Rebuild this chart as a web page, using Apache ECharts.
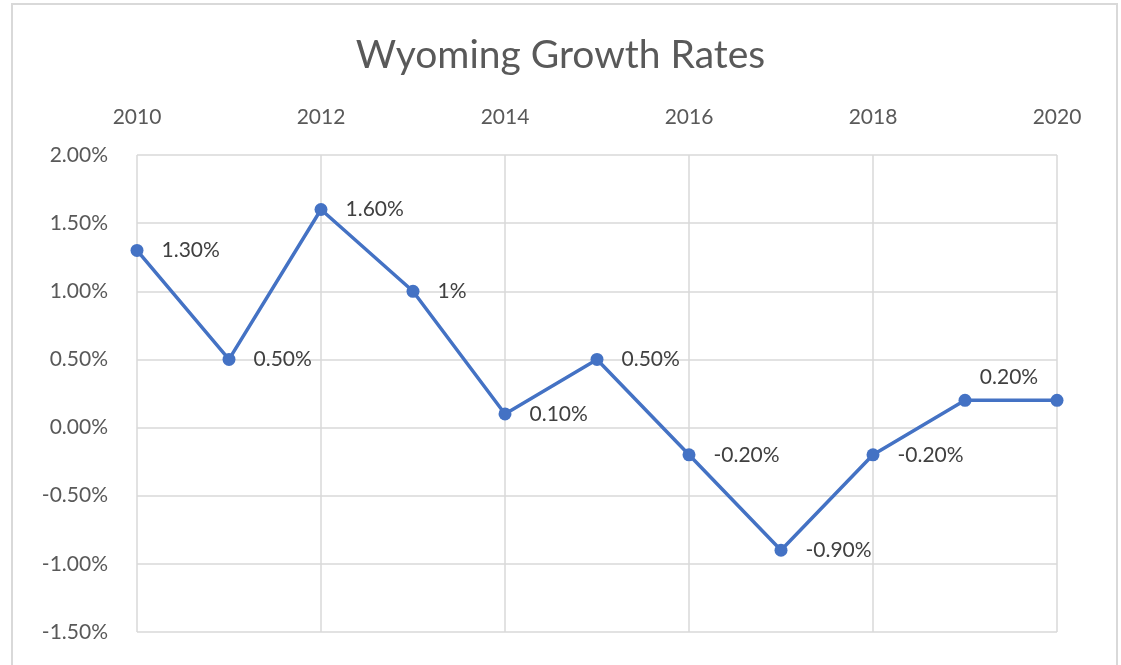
<!DOCTYPE html>
<html>
<head>
<meta charset="utf-8">
<script src="https://cdn.jsdelivr.net/npm/echarts@6/dist/echarts.min.js"></script>
<style>
  html, body { margin: 0; padding: 0; background: #fff; }
  #chart { width: 1121px; height: 665px; }
</style>
</head>
<body>
<div id="chart"></div>
<script>
// data
const years = [2010, 2011, 2012, 2013, 2014, 2015, 2016, 2017, 2018, 2019, 2020];
const rates = [1.3, 0.5, 1.6, 1.0, 0.1, 0.5, -0.2, -0.9, -0.2, 0.2, 0.2];
const pointLabels = ["1.30%", "0.50%", "1.60%", "1%", "0.10%", "0.50%", "-0.20%", "-0.90%", "-0.20%", "0.20%", ""];

const textColor = "#595959";
const gridColor = "#d9d9d9";
const lineColor = "#4472c4";

const seriesData = years.map(function (y, i) {
  const item = { value: [y, rates[i]], label: { formatter: pointLabels[i] } };
  // the 2019 label sits above its point
  if (i === 9) {
    item.label.position = "top";
    item.label.offset = [44, 0];
    item.label.distance = 6;
  }
  return item;
});

const option = {
  animation: false,
  title: {
    text: "Wyoming Growth Rates",
    left: "center",
    top: 31,
    textStyle: {
      color: textColor,
      fontFamily: "Lato",
      fontSize: 39,
      fontWeight: "normal",
    },
  },
  graphic: [
    {
      type: "rect",
      shape: { x: 12, y: 4, width: 1105, height: 700 },
      style: { fill: "none", stroke: gridColor, lineWidth: 2 },
      silent: true,
    },
  ],
  grid: {
    left: 137,
    right: 64,
    top: 155,
    bottom: 33,
  },
  xAxis: {
    type: "value",
    position: "top",
    min: 2010,
    max: 2020,
    interval: 2,
    axisLine: { show: false },
    axisTick: { show: false },
    axisLabel: {
      color: textColor,
      fontFamily: "Lato",
      fontSize: 21,
      margin: 27,
      formatter: function (v) {
        return String(v);
      },
    },
    splitLine: { show: true, lineStyle: { color: gridColor, width: 1.5 } },
  },
  yAxis: {
    type: "value",
    min: -1.5,
    max: 2,
    interval: 0.5,
    axisLine: { show: false },
    axisTick: { show: false },
    axisLabel: {
      color: textColor,
      fontFamily: "Lato",
      fontSize: 21,
      margin: 29,
      formatter: function (v) {
        return v.toFixed(2) + "%";
      },
    },
    splitLine: { show: true, lineStyle: { color: gridColor, width: 1.5 } },
  },
  series: [
    {
      type: "line",
      data: seriesData,
      symbol: "circle",
      symbolSize: 13,
      lineStyle: { color: lineColor, width: 3.5 },
      itemStyle: { color: lineColor },
      label: {
        show: true,
        position: "right",
        distance: 18,
        color: "#404040",
        fontFamily: "Lato",
        fontSize: 21,
      },
    },
  ],
};

const chart = echarts.init(document.getElementById("chart"));
chart.setOption(option);
</script>
</body>
</html>
